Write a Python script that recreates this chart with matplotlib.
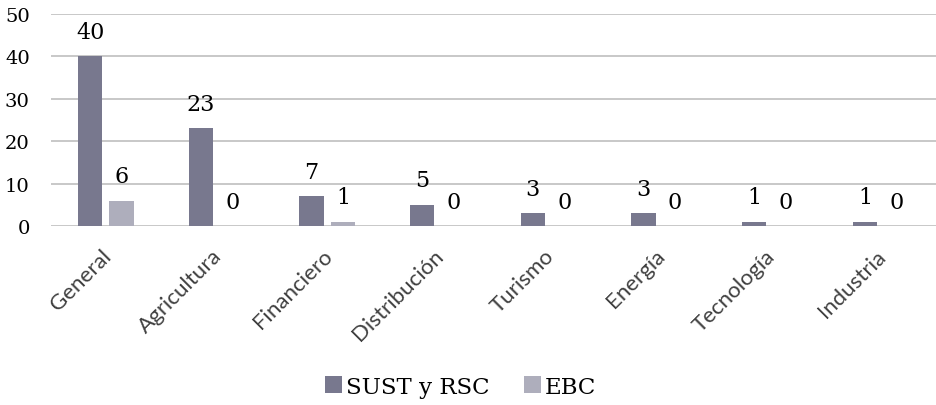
import numpy as np
import matplotlib.pyplot as plt
from matplotlib.transforms import ScaledTranslation

categories = ["General", "Agricultura", "Financiero", "Distribución",
              "Turismo", "Energía", "Tecnología", "Industria"]
sust_rsc = [40, 23, 7, 5, 3, 3, 1, 1]
ebc = [6, 0, 1, 0, 0, 0, 0, 0]

c_sust = "#78788E"
c_ebc = "#AEAEBC"
serif = "DejaVu Serif"

fig = plt.figure(figsize=(9.36, 4.06), dpi=100)
ax = fig.add_axes([0.054, 0.441, 0.946, 0.522])

x = np.arange(len(categories))
w = 0.22
gap = 0.065
b1 = ax.bar(x - (w + gap) / 2, sust_rsc, w, color=c_sust, label="SUST y RSC")
b2 = ax.bar(x + (w + gap) / 2, ebc, w, color=c_ebc, label="EBC")

for bars in (b1, b2):
    for rect in bars:
        h = rect.get_height()
        ax.annotate(f"{h:g}", (rect.get_x() + rect.get_width() / 2, h),
                    xytext=(0, 17.5), textcoords="offset points",
                    ha="center", va="center", fontsize=16, family=serif)

ax.set_xlim(-0.5, len(categories) - 0.5)
ax.set_ylim(0, 50)
ax.set_yticks(range(0, 51, 10))
ax.yaxis.grid(True, color="#BFBFBF", linewidth=1.2)
ax.set_axisbelow(True)
for s in ax.spines.values():
    s.set_visible(False)
ax.tick_params(axis="both", length=0)
ax.tick_params(axis="y", pad=15)
for lab in ax.get_yticklabels():
    lab.set_family(serif)
    lab.set_fontsize(14)

ax.set_xticks(x)
ax.set_xticklabels(categories, rotation=45, ha="right", va="top",
                   rotation_mode="anchor", fontsize=16,
                   family="Lato", color="#404040")
ax.tick_params(axis="x", pad=14)
# nudge category labels slightly left
shift = ScaledTranslation(-5 / 100, 0, fig.dpi_scale_trans)
for lab in ax.get_xticklabels():
    lab.set_transform(lab.get_transform() + shift)

fig.legend(handles=[b1, b2], loc="center", bbox_to_anchor=(0.492, 0.045),
           ncol=2, frameon=False, prop={"family": serif, "size": 16.5},
           handlelength=0.75, handleheight=0.75, handletextpad=0.15,
           columnspacing=1.5)

fig.savefig("out.png", dpi=100)
